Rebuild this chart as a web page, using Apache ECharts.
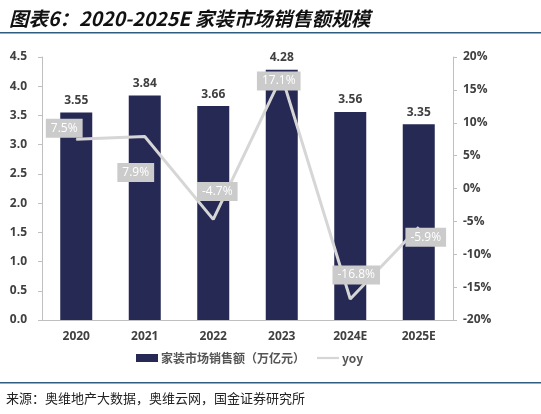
<!DOCTYPE html>
<html>
<head>
<meta charset="utf-8">
<script src="https://cdn.jsdelivr.net/npm/echarts@6/dist/echarts.min.js"></script>
<style>
  html, body { margin: 0; padding: 0; background: #fff; }
  #chart { width: 541px; height: 414px; }
</style>
</head>
<body>
<div id="chart"></div>
<script>
const years = ['2020', '2021', '2022', '2023', '2024E', '2025E'];
const sales = [3.55, 3.84, 3.66, 4.28, 3.56, 3.35];
const yoy = [7.5, 7.9, -4.7, 17.1, -16.8, -5.9];

// where each yoy box sits relative to its point
const yoyLabelOffset = [[-12, -11], [-9, 36], [4, -28], [-3, 5], [6, -24], [7, 10]];

const chart = echarts.init(document.getElementById('chart'));
const numFont = '"Open Sans", "Noto Sans", sans-serif';

chart.setOption({
    animation: false,
    title: {
        text: '图表6：2020-2025E 家装市场销售额规模',
        left: 4, top: 4,
        textStyle: { fontFamily: '"Noto Sans CJK SC"', fontSize: 19.5, fontWeight: 'bold', fontStyle: 'italic', color: '#111' }
    },
    graphic: [
        { type: 'rect', shape: { x: 0, y: 32, width: 541, height: 1.5 }, style: { fill: '#2f5d80' } },
        { type: 'rect', shape: { x: 0, y: 382, width: 541, height: 1.5 }, style: { fill: '#2f5d80' } },
        { type: 'text', left: 6, top: 392, style: { text: '来源：奥维地产大数据，奥维云网，国金证券研究所', font: '13px "Noto Sans CJK SC"', fill: '#222' } }
    ],
    legend: {
        left: 131, top: 347,
        itemGap: 12,
        textStyle: { fontFamily: '"Noto Sans CJK SC"', fontSize: 12, fontWeight: 'bold', color: '#555', padding: [0, 0, 0, -2] },
        data: [
            { name: '家装市场销售额（万亿元）', icon: 'rect', itemStyle: { color: '#262953' } },
            { name: 'yoy', icon: 'path://M0,0 L30,0 L30,3 L0,3 Z', itemStyle: { color: '#d6d6d6' } }
        ],
        itemWidth: 22, itemHeight: 8
    },
    grid: { left: 42, right: 88, top: 57, bottom: 94 },
    xAxis: {
        type: 'category',
        data: years,
        axisLine: { lineStyle: { color: '#bfbfbf', width: 1 } },
        axisTick: { show: false },
        axisLabel: { fontFamily: numFont, fontSize: 12, fontWeight: 'bold', color: '#404040', margin: 11 }
    },
    yAxis: [
        {
            type: 'value', min: 0, max: 4.5, interval: 0.5,
            splitLine: { show: false },
            axisLine: { show: true, lineStyle: { color: '#bfbfbf' } },
            axisTick: { show: true, length: 4, lineStyle: { color: '#bfbfbf' } },
            axisLabel: { fontFamily: numFont, fontSize: 12, fontWeight: 'bold', color: '#404040', margin: 15, formatter: v => v.toFixed(1) }
        },
        {
            type: 'value', min: -20, max: 20, interval: 5,
            splitLine: { show: false },
            axisLine: { show: true, lineStyle: { color: '#bfbfbf' } },
            axisTick: { show: true, length: 4, lineStyle: { color: '#bfbfbf' } },
            axisLabel: { fontFamily: numFont, fontSize: 12, fontWeight: 'bold', color: '#404040', margin: 10, formatter: v => v + '%' }
        }
    ],
    series: [
        {
            name: '家装市场销售额（万亿元）',
            type: 'bar',
            data: sales,
            barWidth: 32,
            itemStyle: { color: '#262953' },
            label: {
                show: true, position: 'top', distance: 6,
                fontFamily: numFont, fontSize: 12, fontWeight: 'bold', color: '#404040',
                formatter: p => p.value.toFixed(2)
            }
        },
        {
            name: 'yoy',
            type: 'line',
            yAxisIndex: 1,
            z: 5,
            symbol: 'circle', symbolSize: 1,
            lineStyle: { color: '#d6d6d6', width: 3 },
            itemStyle: { color: '#d6d6d6' },
            data: yoy.map((v, i) => ({
                value: v,
                label: { offset: yoyLabelOffset[i] }
            })),
            label: {
                show: true, position: 'inside',
                fontFamily: numFont, fontSize: 12, fontWeight: 500, color: '#fff',
                backgroundColor: '#cbcbcb', padding: [4, 5, 3, 5],
                formatter: p => p.value.toFixed(1) + '%'
            }
        }
    ]
});
</script>
</body>
</html>
